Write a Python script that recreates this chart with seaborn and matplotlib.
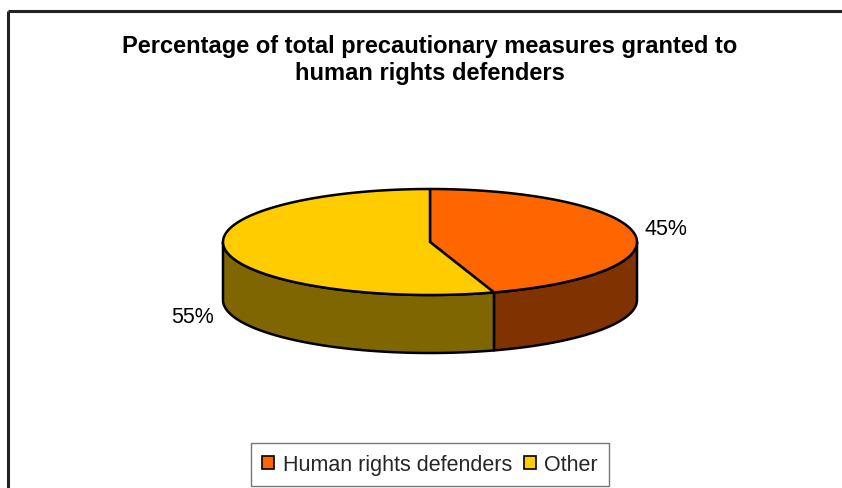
import numpy as np
import matplotlib
matplotlib.use("Agg")
import matplotlib.pyplot as plt
import seaborn as sns
from matplotlib.patches import Polygon, Patch
from matplotlib.lines import Line2D

# ---- data ----
categories = ["Human rights defenders", "Other"]
values = [45, 55]
label_texts = ["45%", "55%"]
title = "Percentage of total precautionary measures granted to\nhuman rights defenders"

sns.set_theme(style="white")
plt.rcParams['font.family'] = ['Liberation Sans', 'DejaVu Sans']
top_colors = sns.color_palette(["#FF6600", "#FFCC00"])
side_colors = [tuple(c * 0.5 for c in col) for col in top_colors]

W, H = 842, 489
fig = plt.figure(figsize=(W / 100, H / 100), dpi=100)
fig.patch.set_facecolor("white")
ax = fig.add_axes([0, 0, 1, 1])
ax.set_xlim(0, W)
ax.set_ylim(H, 0)
ax.axis("off")

# chart frame
ax.add_line(Line2D([8, W], [12, 12], color="#222222", lw=2.2, solid_capstyle="butt"))
ax.add_line(Line2D([8, 8], [12, H], color="#222222", lw=2.2, solid_capstyle="butt"))

# pie geometry
cx, cy, rx, ry, depth = 430, 243, 207, 53, 58

def pt(theta, dy=0.0):
    return cx + rx * np.cos(theta), cy - ry * np.sin(theta) + dy

total = float(sum(values))
start = np.pi / 2
angles = []
for v in values:
    sweep = 2 * np.pi * v / total
    angles.append((start, start - sweep))  # clockwise
    start -= sweep

# side walls (front half only: sin(theta) < 0)
for (a1, a2), col in zip(angles, side_colors):
    lo, hi = min(a1, a2), max(a1, a2)
    for k in range(-2, 2):
        vlo, vhi = -np.pi + 2 * np.pi * k, 0 + 2 * np.pi * k
        s, e = max(lo, vlo), min(hi, vhi)
        if e > s:
            th = np.linspace(s, e, 200)
            xs, ys = pt(th)
            xb, yb = pt(th[::-1], depth)
            poly = np.column_stack([np.concatenate([xs, xb]), np.concatenate([ys, yb])])
            ax.add_patch(Polygon(poly, closed=True, facecolor=col, edgecolor="black",
                                 lw=1.8, joinstyle="round"))

# top wedges
for (a1, a2), col in zip(angles, top_colors):
    th = np.linspace(a1, a2, 300)
    xs, ys = pt(th)
    poly = np.column_stack([np.concatenate([[cx], xs]), np.concatenate([[cy], ys])])
    ax.add_patch(Polygon(poly, closed=True, facecolor=col, edgecolor="black",
                         lw=1.8, joinstyle="round"))

# labels
for (a1, a2), txt in zip(angles, label_texts):
    mid = (a1 + a2) / 2
    right = np.cos(mid) > 0
    lx = cx + rx * (1.05 if right else 1.055) * np.cos(mid)
    ly = cy - ry * 1.57 * np.sin(mid) + (depth + 3 if np.sin(mid) < 0 else 0)
    ax.text(lx, ly, txt, ha="left" if right else "right", va="center",
            fontsize=15.5, color="black")

# title
ax.text(430, 60, title, ha="center", va="center", fontsize=17, fontweight="bold",
        linespacing=1.17, color="black")

# legend
handles = [Patch(facecolor=c, edgecolor="black", lw=1.2) for c in top_colors]
leg = fig.legend(handles, categories, loc="center", ncol=2,
                 bbox_to_anchor=(430 / W, 1 - 465.5 / H), fontsize=15.5,
                 frameon=True, fancybox=False, edgecolor="#555555",
                 handlelength=0.55, handleheight=0.55, handletextpad=0.4,
                 columnspacing=0.55, borderpad=0.5, borderaxespad=0)
leg.get_frame().set_linewidth(1.0)

fig.savefig("out.png", dpi=100, facecolor="white")
